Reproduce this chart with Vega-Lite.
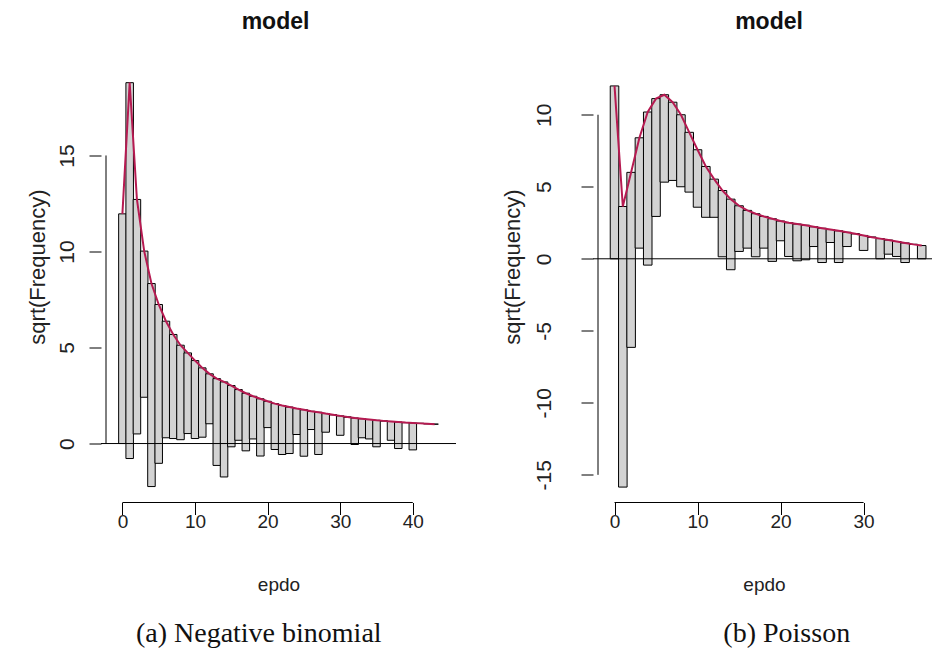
{
  "$schema": "https://vega.github.io/schema/vega-lite/v6.json",
  "padding": {"left": 26, "top": 10.5, "right": 0, "bottom": 0},
  "background": "white",
  "config": {
    "view": {"stroke": null},
    "font": "Liberation Sans",
    "axis": {"grid": false, "domain": false, "tickColor": "#000", "tickSize": 12, "labelColor": "#222", "titleFontWeight": "normal", "titleColor": "#222", "labelFont": "Liberation Sans", "titleFont": "Liberation Sans"},
    "axisX": {"labelFontSize": 19, "titleFontSize": 19, "labelPadding": -2, "titlePadding": 44},
    "axisY": {"labelFontSize": 21, "titleFontSize": 22, "labelAngle": -90},
    "title": {"font": "Liberation Sans", "color": "#111"}
  },
  "datasets": {
    "nb": [
      {"epdo": 0, "sqrt_expected": 11.96, "bar_bottom": 0.0},
      {"epdo": 1, "sqrt_expected": 18.79, "bar_bottom": -0.78},
      {"epdo": 2, "sqrt_expected": 12.71, "bar_bottom": 0.5},
      {"epdo": 3, "sqrt_expected": 10.02, "bar_bottom": 2.41},
      {"epdo": 4, "sqrt_expected": 8.33, "bar_bottom": -2.24},
      {"epdo": 5, "sqrt_expected": 7.24, "bar_bottom": -1.03},
      {"epdo": 6, "sqrt_expected": 6.37, "bar_bottom": 0.3},
      {"epdo": 7, "sqrt_expected": 5.68, "bar_bottom": 0.26},
      {"epdo": 8, "sqrt_expected": 5.12, "bar_bottom": 0.2},
      {"epdo": 9, "sqrt_expected": 4.72, "bar_bottom": 0.52},
      {"epdo": 10, "sqrt_expected": 4.32, "bar_bottom": 0.26},
      {"epdo": 11, "sqrt_expected": 3.94, "bar_bottom": 0.33},
      {"epdo": 12, "sqrt_expected": 3.63, "bar_bottom": 1.03},
      {"epdo": 13, "sqrt_expected": 3.38, "bar_bottom": -1.14},
      {"epdo": 14, "sqrt_expected": 3.21, "bar_bottom": -1.74},
      {"epdo": 15, "sqrt_expected": 3.02, "bar_bottom": -0.17},
      {"epdo": 16, "sqrt_expected": 2.81, "bar_bottom": 0.17},
      {"epdo": 17, "sqrt_expected": 2.62, "bar_bottom": -0.38},
      {"epdo": 18, "sqrt_expected": 2.46, "bar_bottom": 0.24},
      {"epdo": 19, "sqrt_expected": 2.33, "bar_bottom": -0.65},
      {"epdo": 20, "sqrt_expected": 2.2, "bar_bottom": 0.83},
      {"epdo": 21, "sqrt_expected": 2.08, "bar_bottom": -0.31},
      {"epdo": 22, "sqrt_expected": 1.98, "bar_bottom": -0.57},
      {"epdo": 23, "sqrt_expected": 1.9, "bar_bottom": -0.52},
      {"epdo": 24, "sqrt_expected": 1.82, "bar_bottom": 0.47},
      {"epdo": 25, "sqrt_expected": 1.76, "bar_bottom": -0.66},
      {"epdo": 26, "sqrt_expected": 1.68, "bar_bottom": 0.73},
      {"epdo": 27, "sqrt_expected": 1.63, "bar_bottom": -0.57},
      {"epdo": 28, "sqrt_expected": 1.56, "bar_bottom": 0.59},
      {"epdo": 29, "sqrt_expected": 1.5, "bar_bottom": 1.5},
      {"epdo": 30, "sqrt_expected": 1.44, "bar_bottom": 0.43},
      {"epdo": 31, "sqrt_expected": 1.38, "bar_bottom": 1.38},
      {"epdo": 32, "sqrt_expected": 1.33, "bar_bottom": -0.05},
      {"epdo": 33, "sqrt_expected": 1.29, "bar_bottom": 0.3},
      {"epdo": 34, "sqrt_expected": 1.25, "bar_bottom": 0.24},
      {"epdo": 35, "sqrt_expected": 1.21, "bar_bottom": -0.17},
      {"epdo": 36, "sqrt_expected": 1.18, "bar_bottom": 1.18},
      {"epdo": 37, "sqrt_expected": 1.15, "bar_bottom": 0.17},
      {"epdo": 38, "sqrt_expected": 1.12, "bar_bottom": -0.26},
      {"epdo": 39, "sqrt_expected": 1.09, "bar_bottom": 1.09},
      {"epdo": 40, "sqrt_expected": 1.07, "bar_bottom": -0.33},
      {"epdo": 41, "sqrt_expected": 1.05, "bar_bottom": 1.05},
      {"epdo": 42, "sqrt_expected": 1.03, "bar_bottom": 1.03},
      {"epdo": 43, "sqrt_expected": 1.01, "bar_bottom": 1.01}
    ],
    "pois": [
      {"epdo": 0, "sqrt_expected": 12.0, "bar_bottom": 0.0},
      {"epdo": 1, "sqrt_expected": 3.63, "bar_bottom": -15.85},
      {"epdo": 2, "sqrt_expected": 6.0, "bar_bottom": -6.15},
      {"epdo": 3, "sqrt_expected": 8.4, "bar_bottom": 0.74},
      {"epdo": 4, "sqrt_expected": 10.19, "bar_bottom": -0.44},
      {"epdo": 5, "sqrt_expected": 11.12, "bar_bottom": 2.94},
      {"epdo": 6, "sqrt_expected": 11.39, "bar_bottom": 5.32},
      {"epdo": 7, "sqrt_expected": 10.87, "bar_bottom": 5.44},
      {"epdo": 8, "sqrt_expected": 10.0, "bar_bottom": 5.0},
      {"epdo": 9, "sqrt_expected": 8.78, "bar_bottom": 4.63},
      {"epdo": 10, "sqrt_expected": 7.57, "bar_bottom": 3.58},
      {"epdo": 11, "sqrt_expected": 6.41, "bar_bottom": 2.88},
      {"epdo": 12, "sqrt_expected": 5.53, "bar_bottom": 2.88},
      {"epdo": 13, "sqrt_expected": 4.74, "bar_bottom": 0.14},
      {"epdo": 14, "sqrt_expected": 4.14, "bar_bottom": -0.76},
      {"epdo": 15, "sqrt_expected": 3.68, "bar_bottom": 0.51},
      {"epdo": 16, "sqrt_expected": 3.36, "bar_bottom": 0.74},
      {"epdo": 17, "sqrt_expected": 3.13, "bar_bottom": 0.14},
      {"epdo": 18, "sqrt_expected": 2.94, "bar_bottom": 0.74},
      {"epdo": 19, "sqrt_expected": 2.78, "bar_bottom": -0.18},
      {"epdo": 20, "sqrt_expected": 2.62, "bar_bottom": 1.25},
      {"epdo": 21, "sqrt_expected": 2.5, "bar_bottom": 0.16},
      {"epdo": 22, "sqrt_expected": 2.41, "bar_bottom": -0.14},
      {"epdo": 23, "sqrt_expected": 2.33, "bar_bottom": -0.07},
      {"epdo": 24, "sqrt_expected": 2.22, "bar_bottom": 0.85},
      {"epdo": 25, "sqrt_expected": 2.12, "bar_bottom": -0.26},
      {"epdo": 26, "sqrt_expected": 2.03, "bar_bottom": 1.13},
      {"epdo": 27, "sqrt_expected": 1.94, "bar_bottom": -0.26},
      {"epdo": 28, "sqrt_expected": 1.84, "bar_bottom": 0.85},
      {"epdo": 29, "sqrt_expected": 1.74, "bar_bottom": 1.74},
      {"epdo": 30, "sqrt_expected": 1.62, "bar_bottom": 0.58},
      {"epdo": 31, "sqrt_expected": 1.5, "bar_bottom": 1.5},
      {"epdo": 32, "sqrt_expected": 1.4, "bar_bottom": 0.0},
      {"epdo": 33, "sqrt_expected": 1.3, "bar_bottom": 0.32},
      {"epdo": 34, "sqrt_expected": 1.2, "bar_bottom": 0.16},
      {"epdo": 35, "sqrt_expected": 1.1, "bar_bottom": -0.26},
      {"epdo": 36, "sqrt_expected": 1.0, "bar_bottom": 1.0},
      {"epdo": 37, "sqrt_expected": 0.92, "bar_bottom": 0.0}
    ]
  },
  "spacing": 44,
  "hconcat": [
    {
      "title": {"text": "(a) Negative binomial", "orient": "bottom", "anchor": "middle", "font": "Liberation Serif", "fontSize": 28, "fontWeight": "normal", "offset": 25, "dx": 17.5},
      "vconcat": [
        {
          "title": {"text": "model", "fontSize": 23, "fontWeight": "bold", "frame": "group", "anchor": "middle", "offset": 33.5, "dx": -3},
          "width": 355,
          "height": 435,
          "data": {"name": "nb"},
          "layer": [
            {
              "mark": {"type": "bar", "width": 7.51, "fill": "#d3d3d3", "stroke": "#000", "strokeWidth": 1, "clip": true},
              "encoding": {
                "x": {"field": "epdo", "type": "quantitative", "scale": {"domain": [-2.26, 45.26], "nice": false, "zero": false}, "axis": {"values": [0, 10, 20, 30, 40], "title": "epdo"}},
                "y": {"field": "sqrt_expected", "type": "quantitative", "scale": {"domain": [-3.07, 19.58], "nice": false, "zero": false}, "axis": {"values": [0, 5, 10, 15], "title": "sqrt(Frequency)", "labelPadding": 11.5, "titlePadding": 7.5, "titleY": 199, "labelExpr": "'' + datum.value"}},
                "y2": {"field": "bar_bottom"}
              }
            },
            {
              "mark": {"type": "line", "color": "#B61A51", "strokeWidth": 2, "clip": true},
              "encoding": {
                "x": {"field": "epdo", "type": "quantitative"},
                "y": {"field": "sqrt_expected", "type": "quantitative"}
              }
            },
            {
              "data": {"values": [{}]},
              "mark": {"type": "rule", "color": "#000", "strokeWidth": 1},
              "encoding": {"y": {"datum": 0}}
            },
            {
              "data": {"values": [{}]},
              "mark": {"type": "rule", "color": "#000", "strokeWidth": 1},
              "encoding": {"x": {"datum": 0}, "x2": {"datum": 40}, "y": {"datum": -3.07}}
            },
            {
              "data": {"values": [{}]},
              "mark": {"type": "rule", "color": "#000", "strokeWidth": 1},
              "encoding": {"y": {"datum": 0}, "y2": {"datum": 15}, "x": {"datum": -2.26}}
            }
          ]
        }
      ]
    },
    {
      "title": {"text": "(b) Poisson", "orient": "bottom", "anchor": "middle", "font": "Liberation Serif", "fontSize": 28, "fontWeight": "normal", "offset": 25, "dx": 68.5},
      "vconcat": [
        {
          "title": {"text": "model", "fontSize": 23, "fontWeight": "bold", "frame": "group", "anchor": "middle", "offset": 33.5, "dx": 5},
          "width": 342,
          "height": 435,
          "data": {"name": "pois"},
          "layer": [
            {
              "mark": {"type": "bar", "width": 8.55, "fill": "#d3d3d3", "stroke": "#000", "strokeWidth": 1, "clip": true},
              "encoding": {
                "x": {"field": "epdo", "type": "quantitative", "scale": {"domain": [-1.99, 38.0], "nice": false, "zero": false}, "axis": {"values": [0, 10, 20, 30], "title": "epdo"}},
                "y": {"field": "sqrt_expected", "type": "quantitative", "scale": {"domain": [-16.92, 13.28], "nice": false, "zero": false}, "axis": {"values": [-15, -10, -5, 0, 5, 10], "title": "sqrt(Frequency)", "labelPadding": 26.5, "titlePadding": 9.5, "titleY": 199, "labelExpr": "'' + datum.value"}},
                "y2": {"field": "bar_bottom"}
              }
            },
            {
              "mark": {"type": "line", "color": "#B61A51", "strokeWidth": 2, "clip": true},
              "encoding": {
                "x": {"field": "epdo", "type": "quantitative"},
                "y": {"field": "sqrt_expected", "type": "quantitative"}
              }
            },
            {
              "data": {"values": [{}]},
              "mark": {"type": "rule", "color": "#000", "strokeWidth": 1},
              "encoding": {"y": {"datum": 0}}
            },
            {
              "data": {"values": [{}]},
              "mark": {"type": "rule", "color": "#000", "strokeWidth": 1},
              "encoding": {"x": {"datum": 0}, "x2": {"datum": 30}, "y": {"datum": -16.92}}
            },
            {
              "data": {"values": [{}]},
              "mark": {"type": "rule", "color": "#000", "strokeWidth": 1},
              "encoding": {"y": {"datum": -15}, "y2": {"datum": 10}, "x": {"datum": -1.99}}
            }
          ]
        }
      ]
    }
  ]
}
